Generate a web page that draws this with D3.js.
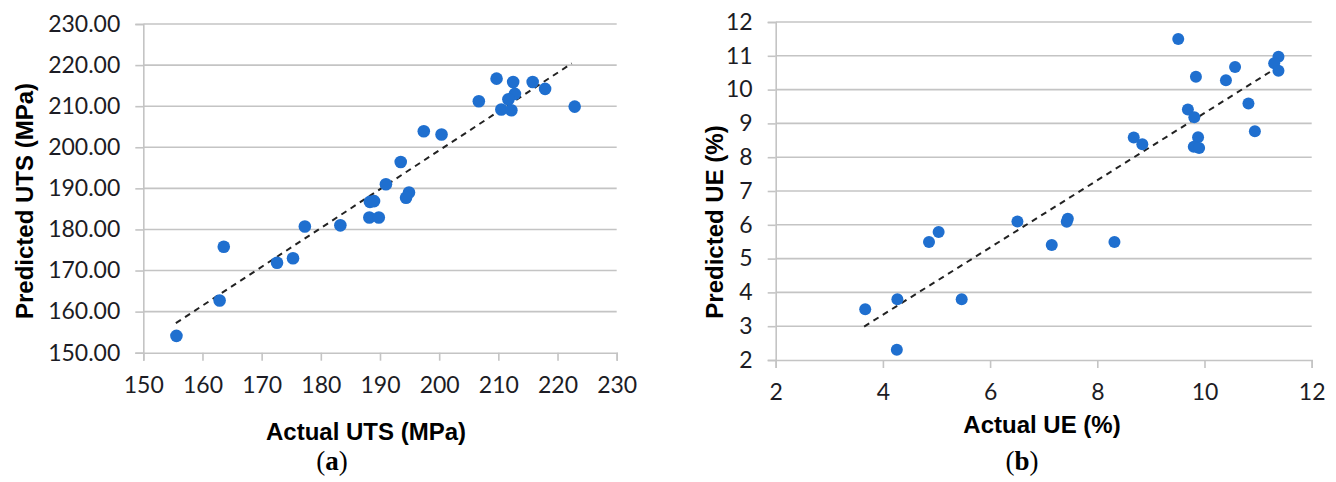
<!DOCTYPE html>
<html>
<head>
<meta charset="utf-8">
<script src="https://cdn.jsdelivr.net/npm/d3@7"></script>
<style>
  body { margin: 0; background: #fff; }
  svg { display: block; }
</style>
</head>
<body>
<div class="charts"></div>
<script>
// (a) UTS: actual vs predicted, MPa
const utsActual = [209.7, 212.5, 215.8, 217.9, 212.8, 211.7, 206.7, 210.5, 212.2, 222.9,
                   197.4, 200.4, 193.5, 191.0, 194.9, 194.4, 188.3, 189.0, 188.2, 189.8,
                   183.3, 177.3, 163.6, 172.6, 175.3, 162.9, 155.6];
const utsPredicted = [216.7, 215.9, 215.9, 214.2, 213.0, 211.7, 211.2, 209.2, 209.0, 209.9,
                      203.9, 203.1, 196.4, 191.0, 189.0, 187.7, 186.7, 186.9, 182.9, 182.9,
                      181.0, 180.7, 175.8, 171.9, 173.0, 162.7, 154.1];
const utsTrendX = [155.5, 222.4];
const utsTrendY = [157.2, 220.4];
const utsTicksX = [150, 160, 170, 180, 190, 200, 210, 220, 230];
const utsTicksY = [150, 160, 170, 180, 190, 200, 210, 220, 230];

// (b) UE: actual vs predicted, %
const ueActual = [9.51, 11.38, 11.30, 11.38, 10.57, 10.40, 9.84, 10.82, 9.69, 9.81,
                  10.94, 9.88, 9.80, 9.90, 8.68, 8.84, 6.51, 7.45, 7.43, 7.15,
                  8.32, 3.67, 4.27, 4.26, 4.86, 5.04, 5.47];
const uePredicted = [11.50, 10.97, 10.78, 10.56, 10.67, 10.28, 10.38, 9.59, 9.41, 9.18,
                     8.77, 8.59, 8.31, 8.27, 8.58, 8.38, 6.10, 6.18, 6.09, 5.40,
                     5.49, 3.50, 3.80, 2.30, 5.49, 5.79, 3.80];
const ueTrendX = [3.65, 11.38];
const ueTrendY = [2.99, 10.68];
const ueTicksX = [2, 4, 6, 8, 10, 12];
const ueTicksY = [2, 3, 4, 5, 6, 7, 8, 9, 10, 11, 12];

document.addEventListener("DOMContentLoaded", runD3);

function runD3() {
  const width = 1336, height = 482;

  const svg = d3.select(".charts").append("svg")
    .attr("width", width)
    .attr("height", height);

  drawPanel(svg, {
    xs: utsActual, ys: utsPredicted,
    trendX: utsTrendX, trendY: utsTrendY,
    ticksX: utsTicksX, ticksY: utsTicksY,
    xDomain: [150, 230], yDomain: [150, 230],
    xRange: [143.3, 616.7], yRange: [352.7, 24],
    fmtY: d3.format(".2f"),
    xTitle: "Actual UTS (MPa)", yTitle: "Predicted UTS (MPa)",
    xTitlePos: [366, 440], yTitlePos: [33, 201],
    tag: "a", tagPos: [332, 470],
    r: 6.3
  });

  drawPanel(svg, {
    xs: ueActual, ys: uePredicted,
    trendX: ueTrendX, trendY: ueTrendY,
    ticksX: ueTicksX, ticksY: ueTicksY,
    xDomain: [2, 12], yDomain: [2, 12],
    xRange: [775.7, 1311.7], yRange: [360, 22],
    fmtY: d3.format("d"),
    xTitle: "Actual UE (%)", yTitle: "Predicted UE (%)",
    xTitlePos: [1042, 433], yTitlePos: [723, 222],
    tag: "b", tagPos: [1022, 470],
    r: 6
  });
}

function drawPanel(svg, c) {
  const x = d3.scaleLinear().domain(c.xDomain).range(c.xRange);
  const y = d3.scaleLinear().domain(c.yDomain).range(c.yRange);
  const g = svg.append("g");
  const grid = "#c4c4c4";

  // horizontal gridlines
  g.append("g")
    .selectAll("line")
    .data(c.ticksY.slice(1))
    .enter()
    .append("line")
    .attr("x1", c.xRange[0])
    .attr("x2", c.xRange[1])
    .attr("y1", d => y(d))
    .attr("y2", d => y(d))
    .attr("stroke", grid)
    .attr("stroke-width", 1.6);

  // y axis
  const yAxis = g.append("g")
    .attr("transform", `translate(${c.xRange[0]},0)`)
    .call(d3.axisLeft(y).tickValues(c.ticksY).tickSize(8).tickPadding(15).tickFormat(c.fmtY));
  // x axis
  const xAxis = g.append("g")
    .attr("transform", `translate(0,${c.yRange[0]})`)
    .call(d3.axisBottom(x).tickValues(c.ticksX).tickSize(8).tickPadding(16));

  [yAxis, xAxis].forEach(a => {
    a.select(".domain").attr("stroke", grid).attr("stroke-width", 1.6);
    a.selectAll(".tick line").attr("stroke", grid).attr("stroke-width", 1.6);
    a.selectAll("text")
      .attr("fill", "#1c1c24")
      .style("font-family", "Lato, 'Open Sans', sans-serif")
      .style("font-size", "23px");
  });

  // trend line
  const trend = c.trendX.map((d, i) => [d, c.trendY[i]]);
  g.append("path")
    .datum(trend)
    .attr("d", d3.line().x(d => x(d[0])).y(d => y(d[1])))
    .attr("stroke", "#222")
    .attr("stroke-width", 2)
    .attr("stroke-dasharray", "6,5")
    .attr("fill", "none");

  // points
  g.append("g")
    .selectAll("circle")
    .data(c.xs)
    .enter()
    .append("circle")
    .attr("cx", d => x(d))
    .attr("cy", (d, i) => y(c.ys[i]))
    .attr("r", c.r)
    .attr("fill", "#1f6fcf");

  // titles
  g.append("text")
    .attr("x", c.xTitlePos[0])
    .attr("y", c.xTitlePos[1])
    .attr("text-anchor", "middle")
    .style("font-family", "'Liberation Sans', Arial, sans-serif")
    .style("font-weight", "bold")
    .style("font-size", "24px")
    .text(c.xTitle);

  g.append("text")
    .attr("transform", `translate(${c.yTitlePos[0]},${c.yTitlePos[1]}) rotate(-90)`)
    .attr("text-anchor", "middle")
    .style("font-family", "'Liberation Sans', Arial, sans-serif")
    .style("font-weight", "bold")
    .style("font-size", "24px")
    .text(c.yTitle);

  const tag = g.append("text")
    .attr("x", c.tagPos[0])
    .attr("y", c.tagPos[1])
    .attr("text-anchor", "middle")
    .style("font-family", "'Liberation Serif', 'DejaVu Serif', serif")
    .style("font-size", "27px");
  tag.append("tspan").text("(");
  tag.append("tspan").style("font-weight", "bold").text(c.tag);
  tag.append("tspan").text(")");
}
</script>
</body>
</html>
